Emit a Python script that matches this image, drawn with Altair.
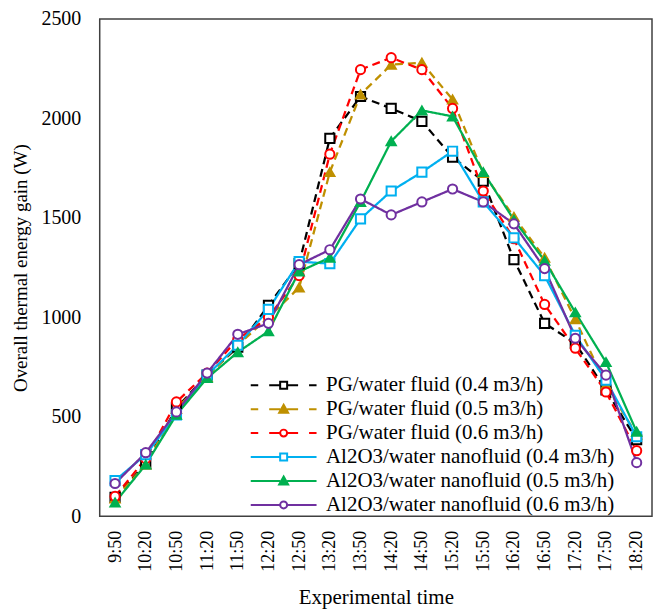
import altair as alt
import pandas as pd

times = ["9:50", "10:20", "10:50", "11:20", "11:50", "12:20", "12:50", "13:20", "13:50",
         "14:20", "14:50", "15:20", "15:50", "16:20", "16:50", "17:20", "17:50", "18:20"]

series_names = [
    "PG/water fluid (0.4 m3/h)",
    "PG/water fluid (0.5 m3/h)",
    "PG/water fluid (0.6 m3/h)",
    "Al2O3/water nanofluid (0.4 m3/h)",
    "Al2O3/water nanofluid (0.5 m3/h)",
    "Al2O3/water nanofluid (0.6 m3/h)",
]

pg04 = [95, 265, 545, 710, 850, 1060, 1270, 1900, 2110, 2050, 1985, 1805, 1685, 1290, 970, 870, 635, 385]
pg05 = [90, 260, 540, 700, 860, 1000, 1150, 1730, 2120, 2270, 2280, 2095, 1725, 1505, 1300, 990, 660, 410]
pg06 = [100, 290, 575, 720, 890, 1000, 1210, 1820, 2245, 2305, 2245, 2050, 1635, 1395, 1065, 845, 625, 330]
al04 = [180, 310, 510, 710, 860, 1040, 1280, 1270, 1495, 1635, 1730, 1835, 1580, 1400, 1210, 910, 685, 400]
al05 = [70, 260, 510, 695, 825, 930, 1230, 1300, 1580, 1885, 2040, 2010, 1730, 1490, 1285, 1025, 775, 425]
al06 = [165, 320, 525, 720, 915, 970, 1265, 1340, 1595, 1515, 1580, 1645, 1580, 1470, 1245, 895, 710, 270]

colors = ["#000000", "#BF9000", "#FF0000", "#00B0F0", "#00B050", "#7030A0"]
fills = ["#ffffff", "#BF9000", "#ffffff", "#ffffff", "#00B050", "#ffffff"]
dashes = [[8, 5], [8, 5], [8, 5], [1, 0], [1, 0], [1, 0]]
shapes = ["square", "triangle-up", "circle", "square", "triangle-up", "circle"]

# legend symbols: line (dashed or solid) with marker, as custom paths
dash_path = "M-6.6,0H-5.1M-2.9,0H-0.7M0.7,0H2.9M5.1,0H6.6"
solid_path = "M-6.6,0H-0.7M0.7,0H6.6"
sq = "M-0.7,-0.7H0.7V0.7H-0.7Z"
tri = "M0,-0.9L0.9,0.7H-0.9Z"
circ = "M0.7,0A0.7,0.7,0,1,1,-0.7,0A0.7,0.7,0,1,1,0.7,0Z"
legend_shapes = [dash_path + sq, dash_path + tri, dash_path + circ,
                 solid_path + sq, solid_path + tri, solid_path + circ]

values = [pg04, pg05, pg06, al04, al05, al06]
rows = []
for name, vals in zip(series_names, values):
    for t, v in zip(times, vals):
        rows.append({"time": t, "gain": v, "series": name})
df = pd.DataFrame(rows)

FONT = "Liberation Serif"

x_enc = alt.X("time:N", sort=times, title="Experimental time",
              axis=alt.Axis(labelAngle=-90, labelFontSize=18, titleFontSize=21,
                            labelPadding=14, titlePadding=15, ticks=False, domain=False,
                            labelBaseline="middle", labelAlign="right"))
y_enc = alt.Y("gain:Q", title="Overall thermal energy gain (W)",
              scale=alt.Scale(domain=[0, 2500], nice=False),
              axis=alt.Axis(values=[0, 500, 1000, 1500, 2000, 2500], format="d",
                            labelFontSize=20, titleFontSize=19, labelPadding=19,
                            titlePadding=10, ticks=False, domain=False, grid=False))

color_scale = alt.Scale(domain=series_names, range=colors)
fill_scale = alt.Scale(domain=series_names, range=fills)

base = alt.Chart(df)

lines = base.mark_line(strokeWidth=2.25).encode(
    x=x_enc, y=y_enc,
    color=alt.Color("series:N", scale=color_scale, legend=None),
    strokeDash=alt.StrokeDash("series:N", scale=alt.Scale(domain=series_names, range=dashes), legend=None),
)

points = base.mark_point(filled=False, size=85, strokeWidth=2, opacity=1).encode(
    x=x_enc, y=y_enc,
    color=alt.Color("series:N", scale=color_scale, legend=None),
    fill=alt.Fill("series:N", scale=fill_scale, legend=None),
    shape=alt.Shape("series:N", scale=alt.Scale(domain=series_names, range=shapes), legend=None),
)

leg = alt.Legend(title=None, orient="none", legendX=146, legendY=357)
legend_layer = base.transform_filter("false").mark_point(filled=False, opacity=1).encode(
    x=x_enc, y=y_enc,
    color=alt.Color("series:N", scale=color_scale, legend=leg),
    fill=alt.Fill("series:N", scale=fill_scale, legend=leg),
    shape=alt.Shape("series:N", scale=alt.Scale(domain=series_names, range=legend_shapes), legend=leg),
)

chart = alt.layer(lines, points, legend_layer).resolve_scale(
    color="independent", fill="independent", shape="independent", strokeDash="independent"
).properties(
    width=554, height=499,
    padding={"left": 4, "top": 0, "right": 2, "bottom": 0},
).configure_view(
    stroke="#404040", strokeWidth=1.5
).configure_axis(
    labelFont=FONT, titleFont=FONT, labelColor="#000000", titleColor="#000000",
    titleFontWeight="normal"
).configure_legend(
    labelFont=FONT, labelFontSize=21, labelColor="#000000", labelLimit=0,
    symbolSize=100, symbolStrokeWidth=2, symbolOffset=28, labelOffset=32,
    rowPadding=2, padding=0
)

chart.save("out.html", embed_options={"renderer": "svg", "actions": False})
